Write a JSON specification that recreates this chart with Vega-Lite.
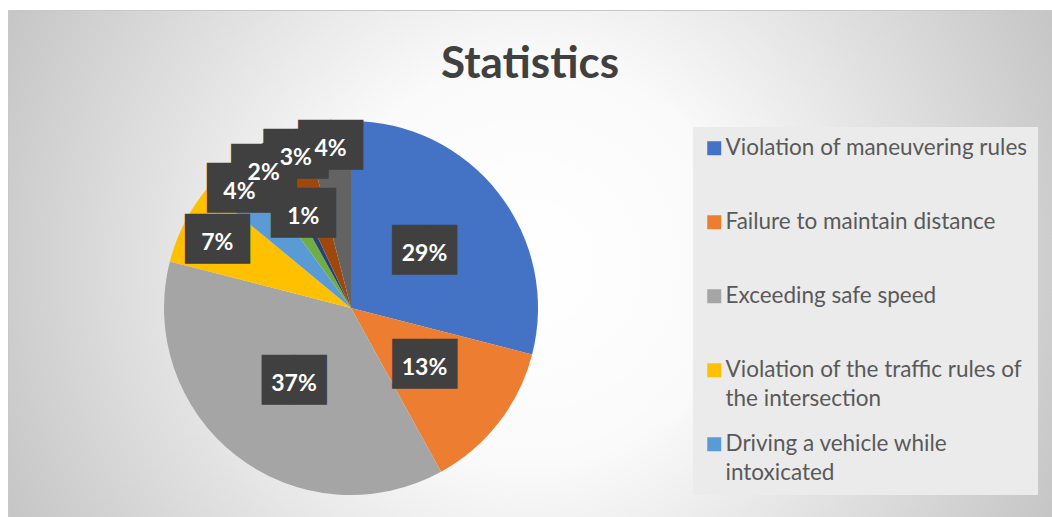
{
  "$schema": "https://vega.github.io/schema/vega-lite/v6.json",
  "width": 1052,
  "height": 517,
  "autosize": {"type": "fit", "contains": "padding"},
  "padding": {"left": 8, "top": 10, "right": 0, "bottom": 0},
  "background": "#ffffff",
  "title": {
    "text": "Statistics",
    "font": "Lato",
    "fontSize": 44,
    "fontWeight": "bold",
    "color": "#404040",
    "anchor": "middle",
    "baseline": "alphabetic",
    "offset": -112
  },
  "view": {
    "stroke": "#c8c8c8",
    "fill": {"gradient": "radial", "x1": 0.5, "y1": 0.5, "r1": 0, "x2": 0.5, "y2": 0.5, "r2": 0.55,
      "stops": [{"offset": 0, "color": "#ffffff"}, {"offset": 0.35, "color": "#fafafa"}, {"offset": 1, "color": "#c6c6c6"}]}
  },
  "config": {
    "style": {"guide-label": {"lineHeight": 29}}
  },
  "data": {
    "values": [
      {"category": "Violation of maneuvering rules", "share": 0.29, "order": 1},
      {"category": "Failure to maintain distance", "share": 0.13, "order": 2},
      {"category": "Exceeding safe speed", "share": 0.37, "order": 3},
      {"category": "Violation of the traffic rules of the intersection", "share": 0.07, "order": 4},
      {"category": "Driving a vehicle while intoxicated", "share": 0.04, "order": 5},
      {"category": "Violation of overtaking rules", "share": 0.02, "order": 6},
      {"category": "Driving without a license", "share": 0.01, "order": 7},
      {"category": "Technical malfunction of the vehicle", "share": 0.03, "order": 8},
      {"category": "Other violations", "share": 0.04, "order": 9}
    ]
  },
  "encoding": {
    "theta": {"field": "share", "type": "quantitative", "stack": true},
    "order": {"field": "order", "type": "quantitative"}
  },
  "layer": [
    {
      "mark": {"type": "arc", "outerRadius": 187, "x": 343, "y": 298},
      "encoding": {
        "color": {
          "field": "category",
          "type": "nominal",
          "scale": {
            "domain": ["Violation of maneuvering rules", "Failure to maintain distance", "Exceeding safe speed", "Violation of the traffic rules of the intersection", "Driving a vehicle while intoxicated", "Violation of overtaking rules", "Driving without a license", "Technical malfunction of the vehicle", "Other violations"],
            "range": ["#4472C4", "#ED7D31", "#A5A5A5", "#FFC000", "#5B9BD5", "#70AD47", "#264478", "#9E480E", "#636363"]
          },
          "legend": {
            "title": null,
            "orient": "none",
            "legendX": 685,
            "legendY": 117,
            "values": ["Violation of maneuvering rules", "Failure to maintain distance", "Exceeding safe speed", "Violation of the traffic rules of the intersection", "Driving a vehicle while intoxicated"],
            "labelExpr": "datum.label == 'Violation of the traffic rules of the intersection' ? ['Violation of the traffic rules of', 'the intersection'] : datum.label == 'Driving a vehicle while intoxicated' ? ['Driving a vehicle while', 'intoxicated'] : datum.label",
            "symbolType": "square",
            "symbolSize": 196,
            "symbolStrokeWidth": 0,
            "labelFont": "Lato",
            "labelFontSize": 22.5,
            "labelColor": "#595959",
            "labelLimit": 400,
            "labelOffset": 0,
            "gridAlign": "all",
            "columns": 1,
            "rowPadding": 22,
            "padding": 10,
            "fillColor": "#ebebeb"
          }
        }
      }
    },
    {
      "mark": {"type": "text", "radius": 93, "x": 343, "y": 298, "font": "DejaVu Sans", "fontSize": 42, "color": "#404040", "text": "██"},
      "encoding": {"opacity": {"condition": {"test": "datum.order <= 3", "value": 1}, "value": 0}}
    },
    {
      "mark": {"type": "text", "radius": 105, "x": 343, "y": 298, "font": "DejaVu Sans", "fontSize": 42, "color": "#404040", "text": "██"},
      "encoding": {"opacity": {"condition": {"test": "datum.order == 7", "value": 1}, "value": 0}}
    },
    {
      "mark": {"type": "text", "radius": 150, "x": 343, "y": 298, "font": "DejaVu Sans", "fontSize": 42, "color": "#404040", "text": "██"},
      "encoding": {"opacity": {"condition": {"test": "datum.order == 4", "value": 1}, "value": 0}}
    },
    {
      "mark": {"type": "text", "radius": 163, "x": 343, "y": 298, "font": "DejaVu Sans", "fontSize": 42, "color": "#404040", "text": "██"},
      "encoding": {"opacity": {"condition": {"test": "datum.order == 5 || datum.order == 6 || datum.order >= 8", "value": 1}, "value": 0}}
    },
    {
      "mark": {"type": "text", "radius": 93, "x": 343, "y": 301, "font": "Lato", "fontSize": 23, "fontWeight": "bold", "color": "#ffffff"},
      "encoding": {
        "text": {"field": "share", "type": "quantitative", "format": ".0%"},
        "opacity": {"condition": {"test": "datum.order <= 3", "value": 1}, "value": 0}
      }
    },
    {
      "mark": {"type": "text", "radius": 105, "x": 343, "y": 301, "font": "Lato", "fontSize": 23, "fontWeight": "bold", "color": "#ffffff"},
      "encoding": {
        "text": {"field": "share", "type": "quantitative", "format": ".0%"},
        "opacity": {"condition": {"test": "datum.order == 7", "value": 1}, "value": 0}
      }
    },
    {
      "mark": {"type": "text", "radius": 150, "x": 343, "y": 301, "font": "Lato", "fontSize": 23, "fontWeight": "bold", "color": "#ffffff"},
      "encoding": {
        "text": {"field": "share", "type": "quantitative", "format": ".0%"},
        "opacity": {"condition": {"test": "datum.order == 4", "value": 1}, "value": 0}
      }
    },
    {
      "mark": {"type": "text", "radius": 163, "x": 343, "y": 301, "font": "Lato", "fontSize": 23, "fontWeight": "bold", "color": "#ffffff"},
      "encoding": {
        "text": {"field": "share", "type": "quantitative", "format": ".0%"},
        "opacity": {"condition": {"test": "datum.order == 5 || datum.order == 6 || datum.order >= 8", "value": 1}, "value": 0}
      }
    }
  ]
}
